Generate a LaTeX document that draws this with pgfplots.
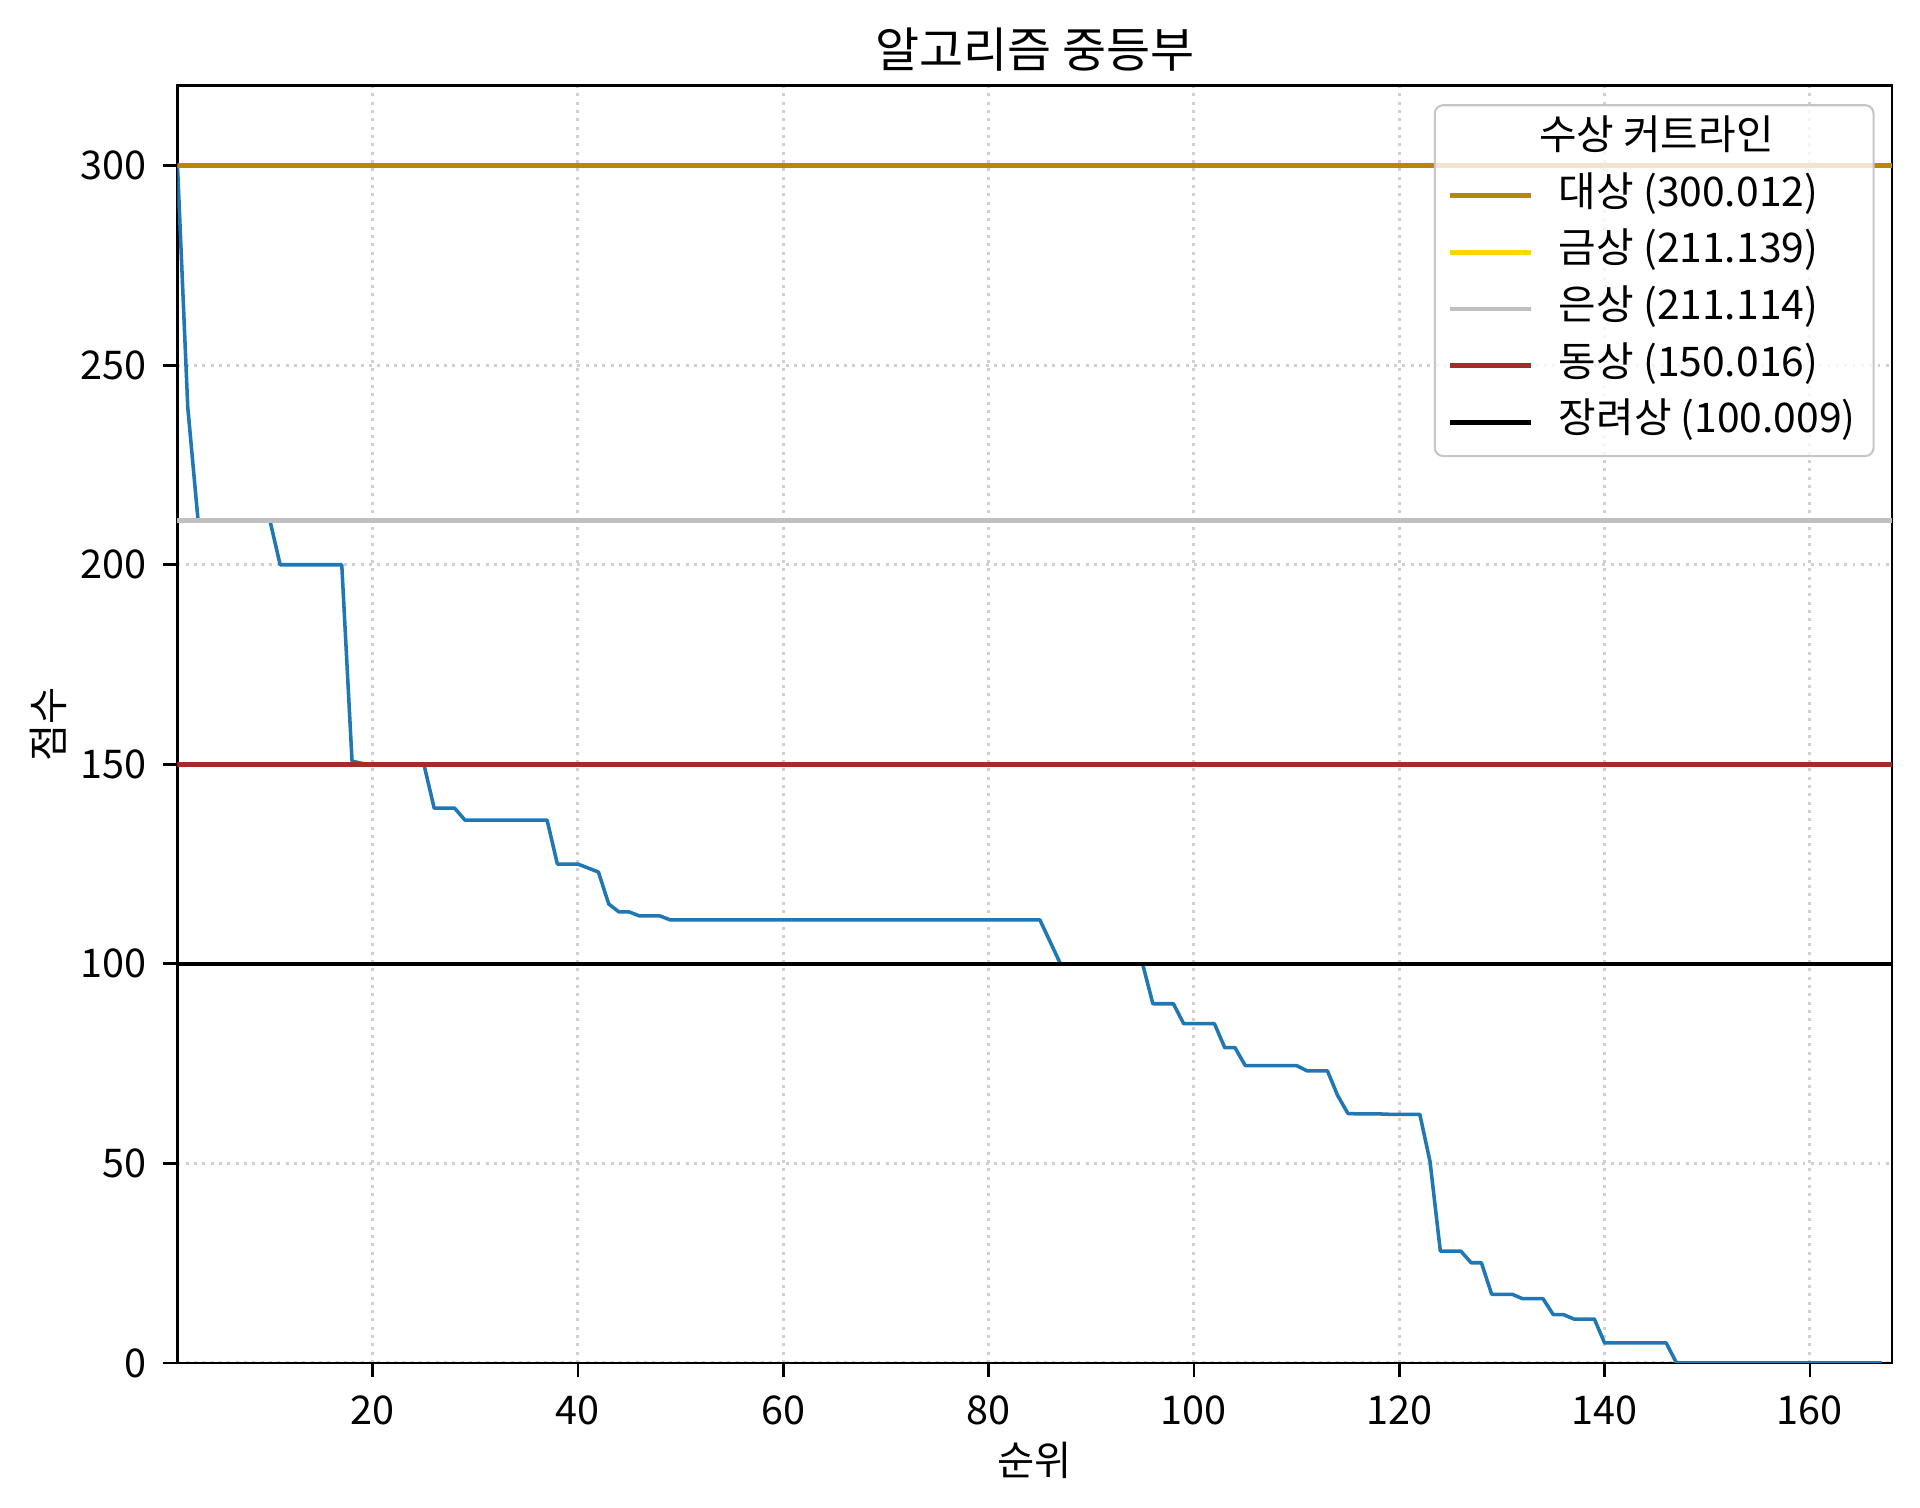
\documentclass[border=0pt]{standalone}
\usepackage{fontspec}
\setmainfont{Noto Sans CJK KR}
\usepackage{pgfplots}
\pgfplotsset{compat=1.18}
\usetikzlibrary{calc}

\definecolor{mplblue}{HTML}{1F77B4}
\definecolor{daesang}{HTML}{B8860B}
\definecolor{geumsang}{HTML}{FFD700}
\definecolor{eunsang}{HTML}{C0C0C0}
\definecolor{dongsang}{HTML}{A52A2A}
\definecolor{gridgray}{HTML}{D0D0D0}

% rank, score
\pgfplotstableread{
rank score
1 300
2 239.5
3 211.2
4 211.1
5 211.1
6 211.1
7 211.1
8 211.1
9 211.1
10 211.1
11 200
12 200
13 200
14 200
15 200
16 200
17 200
18 150.8
19 150.2
20 150
21 150
22 150
23 150
24 150
25 150
26 139
27 139
28 139
29 136
30 136
31 136
32 136
33 136
34 136
35 136
36 136
37 136
38 125
39 125
40 125
41 124
42 123
43 115
44 113
45 113
46 112
47 112
48 112
49 111
50 111
55 111
60 111
65 111
70 111
75 111
80 111
85 111
86 105.5
87 100
88 100
89 100
90 100
91 100
92 100
93 100
94 100
95 100
96 90
97 90
98 90
99 85
100 85
101 85
102 85
103 79
104 79
105 74.5
106 74.5
107 74.5
108 74.5
109 74.5
110 74.5
111 73.2
112 73.2
113 73.2
114 67
115 62.5
116 62.4
117 62.4
118 62.4
119 62.3
120 62.3
121 62.3
122 62.3
123 50.4
124 28
125 28
126 28
127 25.1
128 25.1
129 17.2
130 17.2
131 17.2
132 16.1
133 16.1
134 16.1
135 12.1
136 12.1
137 11
138 11
139 11
140 5
141 5
142 5
143 5
144 5
145 5
146 5
147 0
150 0
155 0
160 0
165 0
167 0
}\scores

\begin{document}
\begin{tikzpicture}
\begin{axis}[
    name=ax,
    scale only axis,
    width=411.5pt, height=306.5pt,
    xmin=1, xmax=168,
    ymin=0, ymax=320,
    xtick={20,40,...,160},
    ytick={0,50,...,300},
    xtick pos=bottom, ytick pos=left,
    tick align=outside,
    major tick length=3.4pt,
    axis line style={line width=0.65pt},
    every tick/.style={black, line width=0.65pt},
    xmajorgrids, ymajorgrids,
    grid style={gridgray, line width=0.7pt, dash pattern=on 0.7pt off 1.3pt},
    /pgf/number format/assume math mode=true,
    ticklabel style={font=\fontsize{9.5}{11}\selectfont},
    xticklabel style={anchor=north, inner sep=0pt, yshift=-4.2pt},
    yticklabel style={anchor=east, inner sep=0pt, xshift=-3.9pt},
    title={알고리즘 중등부},
    title style={font=\fontsize{11.5}{13}\selectfont, at={(axis description cs:0.5,1)}, anchor=center, yshift=2.8pt},
    xlabel={순위},
    xlabel style={font=\fontsize{9.7}{11}\selectfont, at={(axis description cs:0.5,0)}, anchor=center, yshift=-23.3pt},
    ylabel={점수},
    ylabel style={font=\fontsize{9.7}{11}\selectfont, at={(axis description cs:0,0.5)}, anchor=center, yshift=31pt},
    legend image code/.code={\draw[#1] (0pt,0pt) -- (19.4pt,0pt);},
    legend style={
        at={(axis description cs:1,1)}, anchor=north east,
        xshift=-4.2pt, yshift=-4.4pt,
        draw=gray!45, line width=0.5pt, rounded corners=2pt,
        fill=white, fill opacity=0.8, text opacity=1,
        font=\fontsize{9.8}{11}\selectfont,
        inner xsep=3.1pt, inner ysep=3.6pt,
        row sep=4.6pt, column sep=6.2pt,
        nodes={inner sep=0pt, text height=7pt, text depth=2pt},
    },
    legend cell align=left,
]
\addplot[mplblue, line width=0.85pt, line join=round, forget plot] table[x=rank, y=score] {\scores};

\addlegendimage{empty legend}
\addlegendentry{\hspace*{-25.6pt}\makebox[98pt][c]{수상 커트라인}}

\addplot[daesang, line width=1.1pt] coordinates {(1,300.012) (168,300.012)};
\addlegendentry{대상 (300.012)}
\addplot[geumsang, line width=1.1pt] coordinates {(1,211.139) (168,211.139)};
\addlegendentry{금상 (211.139)}
\addplot[eunsang, line width=1.1pt] coordinates {(1,211.114) (168,211.114)};
\addlegendentry{은상 (211.114)}
\addplot[dongsang, line width=1.1pt] coordinates {(1,150.016) (168,150.016)};
\addlegendentry{동상 (150.016)}
\addplot[black, line width=1.1pt] coordinates {(1,100.009) (168,100.009)};
\addlegendentry{장려상 (100.009)}
\end{axis}
\pgfresetboundingbox
\path[use as bounding box] ($(ax.south west)+(-42.6pt,-34.8pt)$) rectangle ($(ax.north east)+(6.7pt,20.6pt)$);
\end{tikzpicture}
\end{document}
